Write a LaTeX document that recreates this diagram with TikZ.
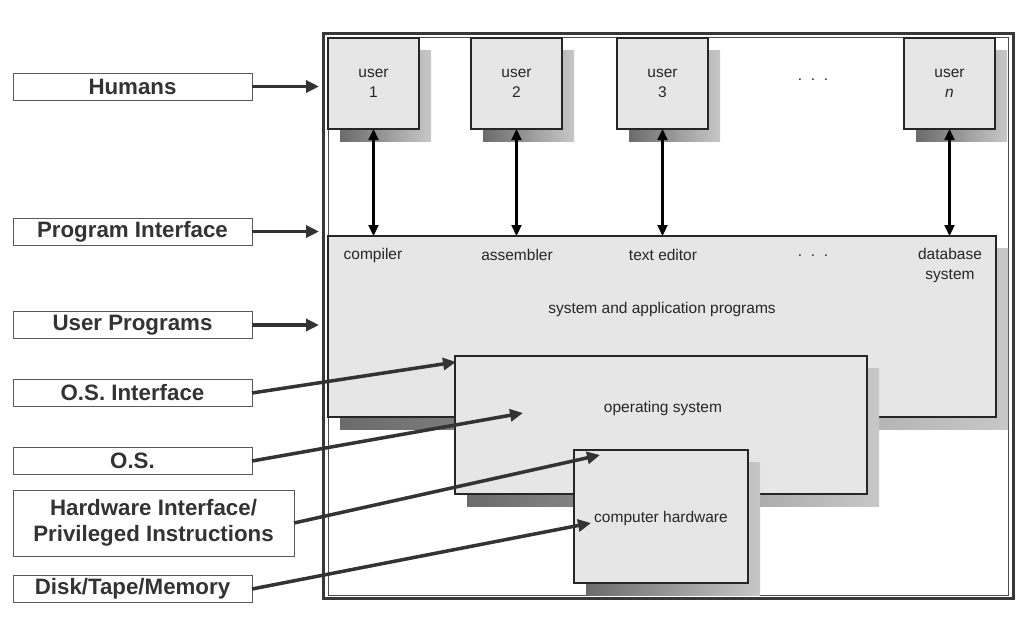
\documentclass[tikz,border=0pt]{standalone}
\usepackage{fontspec}
\setmainfont{Liberation Sans}
\usetikzlibrary{arrows.meta,calc}
\definecolor{boxgray}{HTML}{E6E6E6}
\definecolor{ink}{HTML}{333333}
\begin{document}
\begin{tikzpicture}[x=1pt,y=-1pt,
  shadowshade/.style={left color=black!58, right color=black!22},
  ubox/.style={draw=black!85, line width=1.4pt, fill=boxgray, minimum width=91pt, minimum height=91pt,
    inner sep=0pt, outer sep=0pt, anchor=north west, align=center,
    font=\fontsize{15.5}{20}\selectfont, text=black!85},
  bigbox/.style={draw=black!85, line width=1.2pt, fill=boxgray, inner sep=0pt, outer sep=0pt, anchor=north west},
  lbl/.style={draw=black!65, line width=0.9pt, fill=white, minimum width=239pt, minimum height=27pt,
    inner sep=0pt, outer sep=0pt, anchor=west, align=center,
    font=\fontsize{22.3}{26}\selectfont\bfseries, text=ink},
  small/.style={inner sep=0pt, align=center, font=\fontsize{15.5}{20}\selectfont, text=black!85},
  garrow/.style={draw=ink, line width=3.5pt, -{Triangle[length=13pt,width=12pt]}},
  varrow/.style={draw=black, line width=2.2pt, {Triangle[length=11pt,width=10pt]}-{Triangle[length=11pt,width=10pt]}}
]
\useasboundingbox (0,0) rectangle (1023,619);
\fill[white] (0,0) rectangle (1023,619);

% frame
\draw[line width=3.2pt, draw=black!78] (323.5,33.5) rectangle (1013.5,598.5);
\draw[line width=1pt, draw=black!70] (328,37) rectangle (1008,595);

% user boxes
\shade[shadowshade] (340,50) rectangle (431,141);
\node[ubox] (u1) at (328,38) {user\\1};
\shade[shadowshade] (483,50) rectangle (574,141);
\node[ubox] (u2) at (471,38) {user\\2};
\shade[shadowshade] (629,50) rectangle (720,141);
\node[ubox] (u3) at (617,38) {user\\3};
\shade[shadowshade] (916,50) rectangle (1007,141);
\node[ubox] (un) at (904,38) {user\\\itshape n};
\node[small] (dots1) at (813,80) {.\ \ .\ \ .};

% system and application programs
\shade[shadowshade] (340,248) rectangle (1008,429);
\node[bigbox, minimum width=668pt, minimum height=181pt] (sys) at (328,236) {};
\node[small] (comp) at (373,255) {compiler};
\node[small] (asm) at (517,255) {assembler};
\node[small] (ted) at (663,255) {text editor};
\node[small] (dots2) at (813,256) {.\ \ .\ \ .};
\node[small] (db) at (950,265) {database\\system};
\node[small] (sap) at (662,309) {system and application programs};

% operating system
\shade[shadowshade] (467,368) rectangle (879,506);
\node[bigbox, minimum width=412pt, minimum height=138pt] (os) at (455,356) {};
\node[small] (ostext) at (663,408) {operating system};

% computer hardware
\shade[shadowshade] (586,462) rectangle (760,595);
\node[bigbox, minimum width=174pt, minimum height=133pt] (hw) at (574,450) {};
\node[small] (hwtext) at (661,518) {computer hardware};

% user <-> programs
\draw[varrow] (u1.south) -- (u1.south |- sys.north);
\draw[varrow] (u2.south) -- (u2.south |- sys.north);
\draw[varrow] (u3.south) -- (u3.south |- sys.north);
\draw[varrow] (un.south) -- (un.south |- sys.north);

% left labels
\node[lbl] (hum) at (13,86.5) {Humans};
\node[lbl] (pif) at (13,231.5) {Program Interface};
\node[lbl] (upr) at (13,325) {User Programs};
\node[lbl] (osi) at (13,393) {O.S. Interface};
\node[lbl] (oss) at (13,461) {O.S.};
\node[lbl, minimum width=281pt, minimum height=66pt] (hwi) at (13,523) {Hardware Interface/\\Privileged Instructions};
\node[lbl] (dtm) at (13,589) {Disk/Tape/Memory};

% arrow targets
\coordinate (thum) at (319,86.5);
\coordinate (tpif) at (319,231.5);
\coordinate (tupr) at (319,325);
\coordinate (tosi) at (456,362);
\coordinate (toss) at (523,413);
\coordinate (thwi) at (600,455);
\coordinate (tdtm) at (591,523);

\draw[garrow] (hum.east) -- (thum);
\draw[garrow] (pif.east) -- (tpif);
\draw[garrow] (upr.east) -- (tupr);
\draw[garrow] (osi.east) -- (tosi);
\draw[garrow] (oss.east) -- (toss);
\draw[garrow] (hwi.east) -- (thwi);
\draw[garrow] (dtm.east) -- (tdtm);
\end{tikzpicture}
\end{document}
